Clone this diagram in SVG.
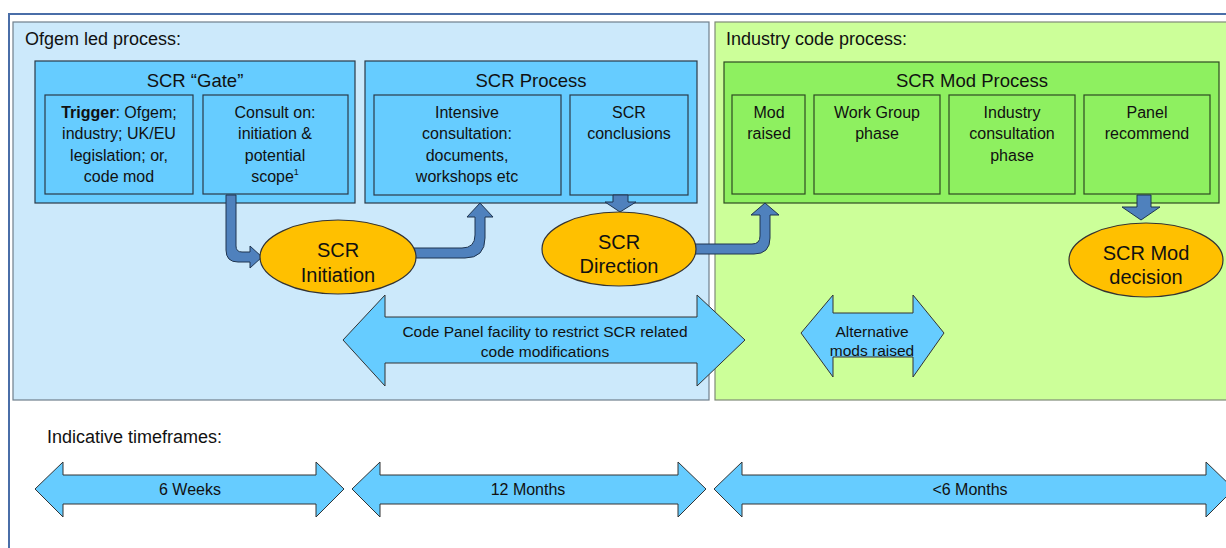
<svg xmlns="http://www.w3.org/2000/svg" width="1226" height="548" viewBox="0 0 1226 548">
<style>
.hdr{font-family:"Liberation Sans",Arial,sans-serif;font-size:18px;fill:#111}
.ttl{font-family:"Liberation Sans",Arial,sans-serif;font-size:18.5px;fill:#111;text-anchor:middle}
.bt{font-family:"Liberation Sans",Arial,sans-serif;font-size:16px;fill:#111;text-anchor:middle}
.et{font-family:"Liberation Sans",Arial,sans-serif;font-size:20px;fill:#111;text-anchor:middle}
.at{font-family:"Liberation Sans",Arial,sans-serif;font-size:15.5px;fill:#111;text-anchor:middle}
.tt{font-family:"Liberation Sans",Arial,sans-serif;font-size:16px;fill:#111;text-anchor:middle}
.bbox{fill:#66ccff;stroke:#2a3a48;stroke-width:1.2}
.gbox{fill:#8ef060;stroke:#2e4a22;stroke-width:1.2}
.ell{fill:#ffc000;stroke:#333;stroke-width:1.2}
.conn{fill:#4f81bd;stroke:#1f3550;stroke-width:1}
.dbl{fill:#66ccff;stroke:#333;stroke-width:1}
</style>
<rect x="0" y="0" width="1226" height="548" fill="#ffffff"/>
<!-- outer frame -->
<path d="M9,548 V14 H1226" fill="none" stroke="#4a6ea8" stroke-width="2"/>
<!-- panels -->
<g id="panel-ofgem">
<rect x="13" y="22" width="696" height="378" fill="#cce9fb" stroke="#6f7f8c" stroke-width="1.2"/>
<text class="hdr" x="25" y="45">Ofgem led process:</text>
</g>
<g id="panel-industry">
<rect x="715" y="22" width="515" height="378" fill="#ccff99" stroke="#7f8a77" stroke-width="1.2"/>
<text class="hdr" x="726" y="45">Industry code process:</text>
</g>
<!-- SCR Gate -->
<g id="scr-gate">
<rect class="bbox" x="35" y="61" width="320" height="142"/>
<text class="ttl" x="195" y="87">SCR “Gate”</text>
</g>
<g id="trigger">
<rect class="bbox" x="45" y="95" width="148" height="99"/>
<text class="bt" x="119" y="118"><tspan font-weight="bold">Trigger</tspan>: Ofgem;</text>
<text class="bt" x="119" y="139">industry; UK/EU</text>
<text class="bt" x="119" y="161">legislation; or,</text>
<text class="bt" x="119" y="182">code mod</text>
</g>
<g id="consult">
<rect class="bbox" x="203" y="95" width="145" height="99"/>
<text class="bt" x="275" y="118">Consult on:</text>
<text class="bt" x="275" y="139">initiation &amp;</text>
<text class="bt" x="275" y="161">potential</text>
<text class="bt" x="275" y="182">scope<tspan font-size="9" dy="-7">1</tspan></text>
</g>
<!-- SCR Process -->
<g id="scr-process">
<rect class="bbox" x="365" y="61" width="332" height="142"/>
<text class="ttl" x="531" y="87">SCR Process</text>
</g>
<g id="intensive">
<rect class="bbox" x="374" y="95" width="187" height="100"/>
<text class="bt" x="467" y="118">Intensive</text>
<text class="bt" x="467" y="139">consultation:</text>
<text class="bt" x="467" y="161">documents,</text>
<text class="bt" x="467" y="182">workshops etc</text>
</g>
<g id="conclusions">
<rect class="bbox" x="570" y="95" width="118" height="100"/>
<text class="bt" x="629" y="118">SCR</text>
<text class="bt" x="629" y="139">conclusions</text>
</g>
<!-- SCR Mod Process -->
<g id="scr-mod-process">
<rect class="gbox" x="724" y="62" width="495" height="141"/>
<text class="ttl" x="972" y="87">SCR Mod Process</text>
</g>
<g id="mod-raised">
<rect class="gbox" x="732" y="95" width="73" height="99"/>
<text class="bt" x="769" y="118">Mod</text>
<text class="bt" x="769" y="139">raised</text>
</g>
<g id="work-group">
<rect class="gbox" x="814" y="95" width="126" height="99"/>
<text class="bt" x="877" y="118">Work Group</text>
<text class="bt" x="877" y="139">phase</text>
</g>
<g id="industry-consultation">
<rect class="gbox" x="949" y="95" width="126" height="99"/>
<text class="bt" x="1012" y="118">Industry</text>
<text class="bt" x="1012" y="139">consultation</text>
<text class="bt" x="1012" y="161">phase</text>
</g>
<g id="panel-recommend">
<rect class="gbox" x="1084" y="95" width="126" height="99"/>
<text class="bt" x="1147" y="118">Panel</text>
<text class="bt" x="1147" y="139">recommend</text>
</g>
<!-- connectors -->
<g id="connectors">
<path class="conn" d="M226,195 V250 Q226,262 238,262 H250 V268 L262,257 L250,246 V252 H242 Q236,252 236,246 V195 Z"/>
<path class="conn" d="M413,248 H462 Q475,248 475,235 V217 H467 L480,203 L493,217 H485 V238 Q485,258 465,258 H413 Z"/>
<path class="conn" d="M613,195 H628 V202 H636 L620,212 L605,202 H613 Z"/>
<path class="conn" d="M695,244 H752 Q760,244 760,236 V215 H751 L765,203 L779,215 H770 V238 Q770,254 754,254 H695 Z"/>
<path class="conn" d="M1137,195 H1151 V207 H1160 L1141,220 L1122,207 H1137 Z"/>
</g>
<!-- ellipses -->
<g id="scr-initiation">
<ellipse class="ell" cx="338" cy="257" rx="78" ry="37"/>
<text class="et" x="338" y="257">SCR</text>
<text class="et" x="338" y="282">Initiation</text>
</g>
<g id="scr-direction">
<ellipse class="ell" cx="619" cy="249" rx="77" ry="37"/>
<text class="et" x="619" y="249">SCR</text>
<text class="et" x="619" y="273">Direction</text>
</g>
<g id="scr-mod-decision">
<ellipse class="ell" cx="1146" cy="260" rx="77" ry="37"/>
<text class="et" x="1146" y="260">SCR Mod</text>
<text class="et" x="1146" y="284">decision</text>
</g>
<!-- double arrows -->
<g id="code-panel-facility">
<path class="dbl" d="M343,340 L385,295 V317 H697 V295 L745,340 L697,386 V363 H385 V386 Z"/>
<text class="at" x="545" y="337">Code Panel facility to restrict SCR related</text>
<text class="at" x="545" y="357">code modifications</text>
</g>
<g id="alternative-mods">
<path class="dbl" d="M801,333 L833,295 V313 H913 V295 L944,333 L913,377 V357 H833 V377 Z"/>
<text class="at" x="872" y="337" font-size="15">Alternative</text>
<text class="at" x="872" y="356" font-size="15">mods raised</text>
</g>
<text class="hdr" x="47" y="443" font-size="17">Indicative timeframes:</text>
<g id="tf-6weeks">
<path class="dbl" d="M35,489 L63,462 V475 H316 V462 L344,489 L316,517 V504 H63 V517 Z"/>
<text class="tt" x="190" y="495">6 Weeks</text>
</g>
<g id="tf-12months">
<path class="dbl" d="M352,489 L380,462 V475 H678 V462 L706,489 L678,517 V504 H380 V517 Z"/>
<text class="tt" x="528" y="495">12 Months</text>
</g>
<g id="tf-6months">
<path class="dbl" d="M714,489 L742,462 V475 H1206 V462 L1234,489 L1206,517 V504 H742 V517 Z"/>
<text class="tt" x="970" y="495">&lt;6 Months</text>
</g>
</svg>
